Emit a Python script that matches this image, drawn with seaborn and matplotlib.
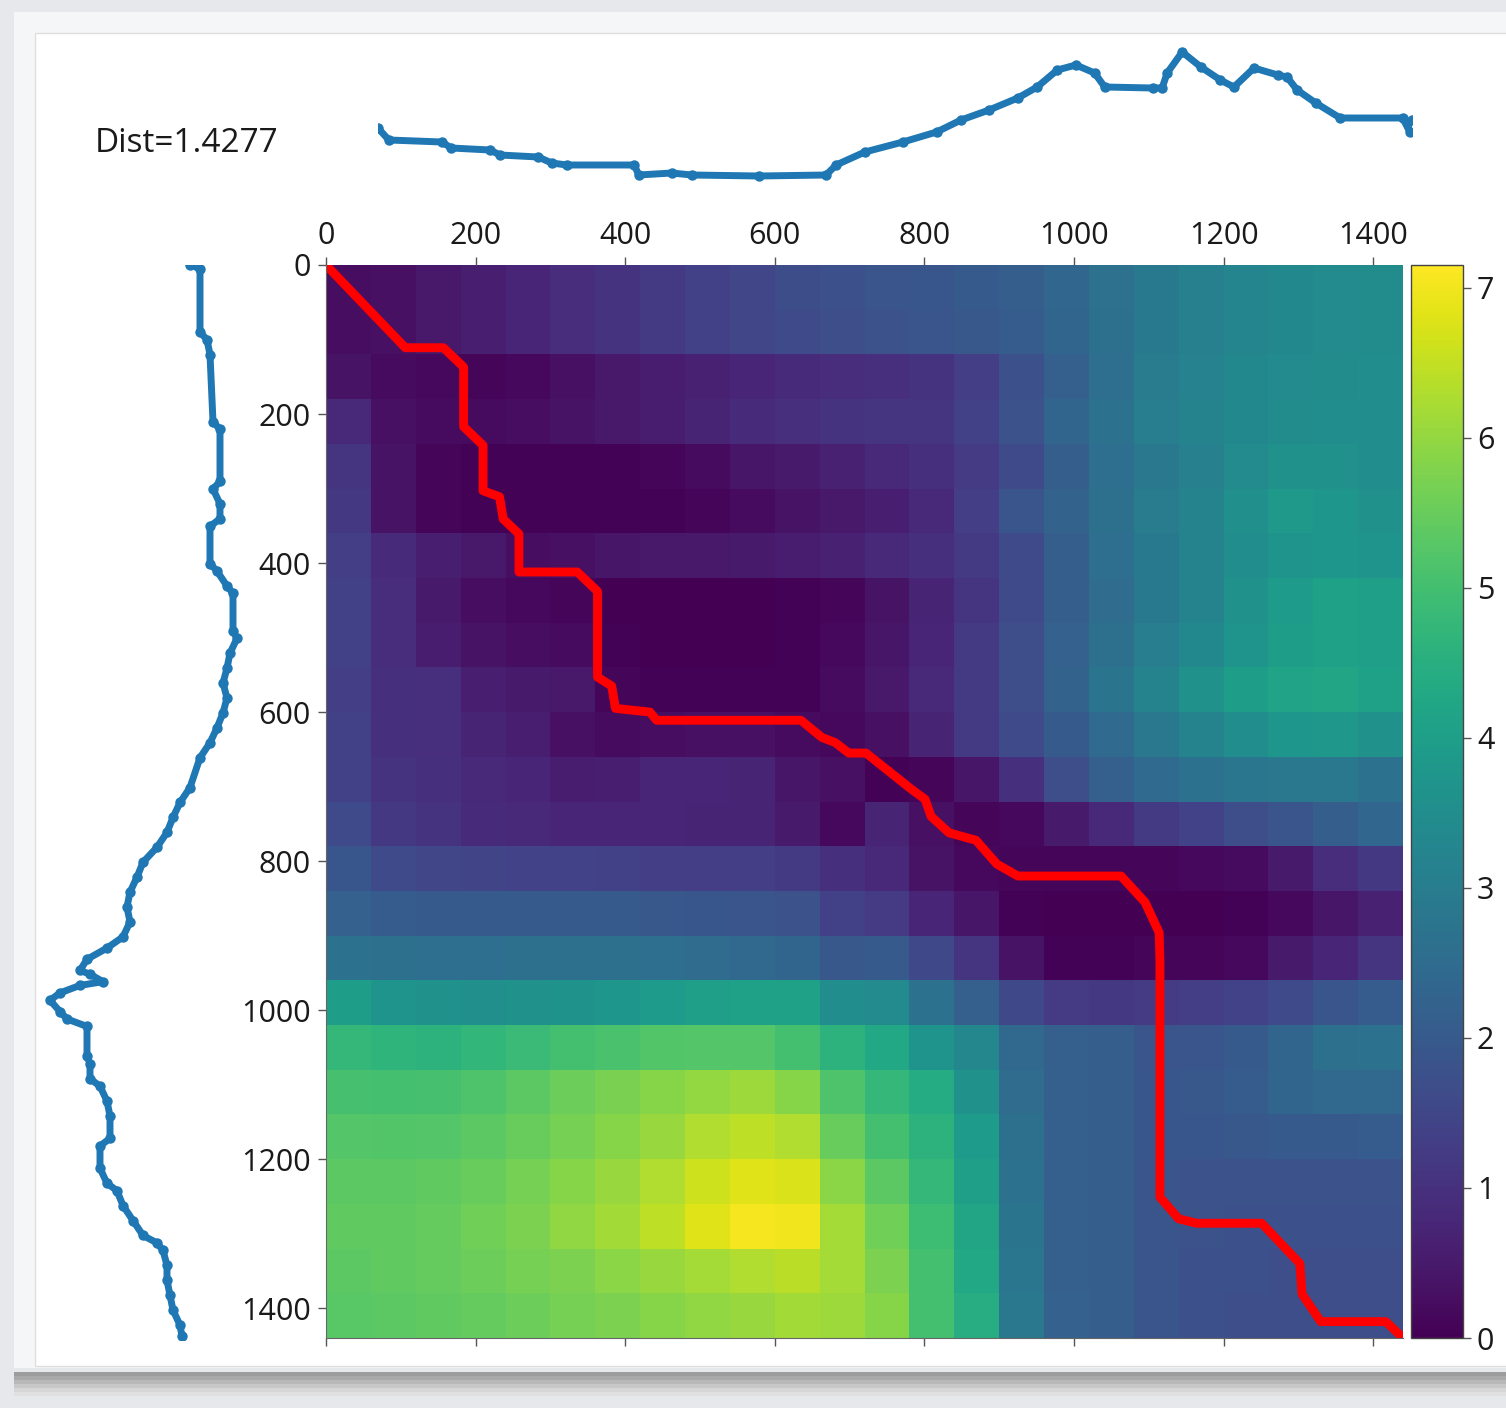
import numpy as np
import pandas as pd
import matplotlib
matplotlib.use("Agg")
import matplotlib.pyplot as plt
from matplotlib.patches import Rectangle
import seaborn as sns

# ---------------- data ----------------
dist_label = "Dist=1.4277"

# top series (column sequence): index, value
top_idx = [0, 15, 89, 102, 156, 170, 223, 242, 263, 357, 363, 409, 437, 531, 624, 638, 678, 731,
           778, 812, 851, 891, 918, 946, 972, 998, 1012, 1079, 1092, 1099, 1120, 1146, 1173, 1192,
           1220, 1253, 1266, 1280, 1306, 1340, 1427, 1437, 1440]
top_val = [52, 40, 38, 32, 30, 25, 23, 17, 15, 15, 5, 7, 5, 4, 5, 15, 28, 38,
           48, 60, 70, 82, 93, 110, 115, 107, 93, 92, 92, 107, 128, 113, 100, 93,
           112, 105, 103, 90, 77, 62, 62, 48, 60]

# left series (row sequence): index, value
left_idx = [0, 5, 90, 100, 120, 210, 220, 290, 300, 320, 340, 350, 400, 410, 430, 440, 490, 500,
            520, 540, 560, 580, 600, 620, 640, 660, 700, 720, 740, 760, 780, 800, 820, 840, 860,
            880, 900, 915, 930, 945, 950, 960, 965, 975, 985, 1000, 1010, 1020, 1060, 1070, 1090,
            1100, 1120, 1140, 1170, 1180, 1210, 1230, 1240, 1260, 1280, 1300, 1310, 1320, 1340,
            1360, 1380, 1400, 1420, 1435]
left_val = [190, 200, 200, 207, 210, 213, 220, 220, 213, 220, 220, 210, 210, 217, 227, 233, 233, 237,
            230, 227, 223, 227, 223, 217, 210, 200, 190, 180, 173, 167, 157, 143, 137, 130, 127,
            130, 123, 107, 87, 80, 90, 103, 80, 60, 50, 60, 67, 87, 87, 90, 90,
            100, 107, 110, 110, 100, 100, 107, 117, 123, 133, 143, 157, 163, 167,
            167, 170, 173, 180, 182]

# warping path (column index, row index)
path_col = [0, 106, 157, 184, 184, 210, 210, 232, 237, 258, 258, 336, 363, 363, 382, 387, 433, 442,
            635, 663, 681, 699, 722, 737, 782, 801, 809, 833, 869, 897, 925, 1063, 1095, 1114,
            1115, 1115, 1140, 1164, 1251, 1302, 1305, 1330, 1417, 1440]
path_row = [0, 111, 111, 137, 217, 242, 303, 311, 341, 361, 412, 412, 438, 553, 565, 595, 600, 611,
            611, 634, 641, 655, 655, 667, 703, 717, 740, 762, 772, 804, 820, 820, 855, 896,
            934, 1251, 1280, 1286, 1286, 1340, 1381, 1418, 1418, 1440]

# cost matrix sampled every 60 samples (rows x columns)
cost_matrix = [
    [0.25, 0.3, 0.45, 0.6, 0.75, 0.9, 1.05, 1.2, 1.35, 1.5, 1.65, 1.75, 1.85, 1.9, 2.0, 2.1, 2.35, 2.65, 2.9, 3.1, 3.25, 3.35, 3.4, 3.45],
    [0.25, 0.3, 0.45, 0.6, 0.75, 0.9, 1.05, 1.2, 1.35, 1.5, 1.6, 1.7, 1.8, 1.85, 1.95, 2.05, 2.3, 2.6, 2.9, 3.1, 3.25, 3.35, 3.4, 3.45],
    [0.35, 0.2, 0.15, 0.1, 0.15, 0.3, 0.45, 0.55, 0.65, 0.75, 0.85, 0.9, 0.95, 1.05, 1.3, 1.75, 2.15, 2.55, 2.95, 3.15, 3.35, 3.4, 3.45, 3.5],
    [0.8, 0.3, 0.2, 0.2, 0.25, 0.35, 0.45, 0.55, 0.7, 0.85, 0.95, 1.05, 1.1, 1.1, 1.35, 1.8, 2.3, 2.7, 3.0, 3.2, 3.35, 3.45, 3.5, 3.5],
    [1.1, 0.35, 0.1, 0.05, 0.05, 0.05, 0.05, 0.1, 0.2, 0.4, 0.5, 0.65, 0.8, 1.0, 1.25, 1.6, 2.1, 2.55, 2.85, 3.1, 3.4, 3.6, 3.6, 3.5],
    [1.15, 0.35, 0.1, 0.05, 0.05, 0.05, 0.05, 0.05, 0.1, 0.2, 0.35, 0.45, 0.6, 0.8, 1.3, 1.85, 2.25, 2.6, 2.95, 3.2, 3.55, 3.85, 3.75, 3.6],
    [1.3, 0.85, 0.6, 0.45, 0.25, 0.3, 0.4, 0.45, 0.45, 0.5, 0.55, 0.65, 0.8, 1.0, 1.2, 1.6, 2.1, 2.55, 2.9, 3.2, 3.5, 3.7, 3.75, 3.7],
    [1.35, 0.9, 0.5, 0.25, 0.15, 0.1, 0.0, 0.0, 0.0, 0.0, 0.05, 0.1, 0.35, 0.7, 1.1, 1.6, 2.1, 2.5, 2.9, 3.2, 3.6, 3.9, 4.05, 4.0],
    [1.35, 0.9, 0.55, 0.35, 0.25, 0.2, 0.05, 0.0, 0.0, 0.0, 0.05, 0.15, 0.4, 0.75, 1.2, 1.7, 2.2, 2.6, 3.0, 3.35, 3.7, 3.95, 4.1, 4.0],
    [1.3, 1.0, 0.95, 0.6, 0.5, 0.45, 0.1, 0.05, 0.05, 0.05, 0.05, 0.2, 0.45, 0.8, 1.2, 1.7, 2.25, 2.75, 3.2, 3.6, 3.95, 4.15, 4.2, 4.1],
    [1.35, 1.0, 0.95, 0.7, 0.6, 0.3, 0.2, 0.25, 0.3, 0.3, 0.2, 0.15, 0.3, 0.7, 1.2, 1.6, 2.0, 2.45, 2.85, 3.2, 3.5, 3.75, 3.8, 3.6],
    [1.35, 1.05, 1.0, 0.8, 0.75, 0.55, 0.6, 0.75, 0.75, 0.7, 0.4, 0.3, 0.05, 0.1, 0.4, 1.0, 1.7, 2.15, 2.45, 2.7, 2.8, 2.85, 2.85, 2.7],
    [1.6, 1.15, 1.05, 0.85, 0.8, 0.75, 0.75, 0.75, 0.7, 0.7, 0.5, 0.15, 0.7, 0.3, 0.1, 0.15, 0.5, 0.8, 1.2, 1.4, 1.7, 1.85, 2.1, 2.35],
    [1.9, 1.6, 1.5, 1.45, 1.4, 1.4, 1.35, 1.3, 1.3, 1.3, 1.2, 1.0, 0.8, 0.35, 0.15, 0.1, 0.1, 0.1, 0.1, 0.15, 0.2, 0.5, 0.9, 1.15],
    [2.2, 2.05, 2.0, 2.0, 2.0, 2.0, 2.0, 1.95, 1.9, 1.85, 1.8, 1.35, 1.25, 0.75, 0.4, 0.05, 0.0, 0.0, 0.0, 0.0, 0.05, 0.15, 0.4, 0.65],
    [2.7, 2.6, 2.55, 2.55, 2.6, 2.6, 2.6, 2.55, 2.5, 2.4, 2.3, 1.95, 2.0, 1.55, 1.1, 0.35, 0.05, 0.05, 0.1, 0.1, 0.15, 0.5, 0.75, 1.1],
    [3.95, 3.7, 3.6, 3.55, 3.6, 3.65, 3.75, 3.9, 4.0, 4.1, 4.05, 3.5, 3.4, 2.7, 2.15, 1.55, 1.25, 1.15, 1.25, 1.3, 1.4, 1.6, 1.85, 2.05],
    [4.75, 4.65, 4.6, 4.7, 4.85, 5.0, 5.1, 5.2, 5.25, 5.25, 5.0, 4.6, 4.3, 3.7, 3.3, 2.4, 2.15, 2.1, 1.85, 1.85, 2.0, 2.3, 2.6, 2.7],
    [5.05, 5.0, 5.05, 5.15, 5.35, 5.55, 5.7, 5.85, 6.0, 6.1, 5.85, 5.15, 4.75, 4.4, 3.6, 2.5, 2.15, 2.1, 1.9, 1.95, 2.05, 2.3, 2.4, 2.4],
    [5.25, 5.2, 5.25, 5.35, 5.5, 5.65, 5.85, 6.05, 6.3, 6.45, 6.3, 5.5, 5.0, 4.6, 3.9, 2.6, 2.15, 2.1, 1.9, 1.9, 1.95, 2.0, 2.0, 2.05],
    [5.35, 5.35, 5.4, 5.5, 5.65, 5.85, 6.05, 6.3, 6.6, 6.8, 6.75, 5.9, 5.35, 4.75, 4.0, 2.7, 2.15, 2.1, 1.85, 1.8, 1.8, 1.8, 1.8, 1.8],
    [5.4, 5.4, 5.45, 5.6, 5.75, 5.95, 6.15, 6.45, 6.8, 7.05, 7.0, 6.2, 5.6, 4.9, 4.2, 2.75, 2.15, 2.1, 1.85, 1.8, 1.75, 1.75, 1.75, 1.75],
    [5.35, 5.4, 5.45, 5.55, 5.65, 5.75, 5.9, 6.05, 6.2, 6.3, 6.4, 6.2, 5.75, 5.0, 4.3, 2.8, 2.15, 2.1, 1.85, 1.75, 1.75, 1.7, 1.7, 1.7],
    [5.3, 5.35, 5.4, 5.45, 5.55, 5.65, 5.75, 5.85, 5.95, 6.05, 6.15, 6.1, 5.85, 5.0, 4.45, 2.85, 2.2, 2.1, 1.85, 1.75, 1.7, 1.7, 1.7, 1.7],
]
axis_ticks = [0, 200, 400, 600, 800, 1000, 1200, 1400]
cbar_ticks = [0, 1, 2, 3, 4, 5, 6, 7]
cbar_max = 7.15
n_samples = 1440

# ---------------- figure ----------------
sns.set_theme(style="white")
plt.rcParams["font.family"] = ["Open Sans", "DejaVu Sans"]

W, H = 1506, 1408
fig = plt.figure(figsize=(W / 100, H / 100), dpi=100)
fig.patch.set_facecolor("#e7e8eb")


def rect(x0, y0, x1, y1):
    return [x0 / W, 1 - y1 / H, (x1 - x0) / W, (y1 - y0) / H]


# panel background and bottom shadow
fig.patches.append(Rectangle((14 / W, 1 - 1368 / H), 1, (1368 - 12) / H,
                             transform=fig.transFigure, facecolor="#f5f6f7",
                             edgecolor="none", zorder=-10))
fig.patches.append(Rectangle((35 / W, 1 - 1366 / H), 1, (1366 - 33) / H,
                             transform=fig.transFigure, facecolor="white",
                             edgecolor="#dedede", linewidth=1, zorder=-9))
shadow = ["#9d9d9d", "#a9a9a9", "#b8b8b8", "#c8c8c8", "#d6d6d6", "#e0e0e0"]
for k, c in enumerate(shadow):
    fig.patches.append(Rectangle((14 / W, 1 - (1372 + 4 * (k + 1)) / H), 1, 4 / H,
                                 transform=fig.transFigure, facecolor=c,
                                 edgecolor="none", zorder=-8))

text_color = "#1a1a1a"
tick_fs = 22

# heatmap
ax_hm = fig.add_axes(rect(326, 265, 1403, 1338))
ax_cb = fig.add_axes(rect(1411, 265, 1463, 1338))
df = pd.DataFrame(cost_matrix)
sns.heatmap(df, ax=ax_hm, cbar_ax=ax_cb, cmap="viridis", vmin=0, vmax=cbar_max,
            xticklabels=False, yticklabels=False, rasterized=True)
ax_hm.set_xlabel("")
ax_hm.set_ylabel("")
ax_hm.tick_params(left=False, bottom=False)

# overlay axes in sample coordinates for the path and the ticks
ax = fig.add_axes(rect(326, 265, 1403, 1338))
ax.patch.set_alpha(0)
sns.lineplot(x=path_col, y=path_row, sort=False, estimator=None, color="red",
             linewidth=6.4, ax=ax, solid_capstyle="round", solid_joinstyle="round")
ax.set_xlim(0, n_samples)
ax.set_ylim(n_samples, 0)
ax.set_xticks(axis_ticks)
ax.set_yticks(axis_ticks)
ax.set_xticklabels([str(t) for t in axis_ticks])
ax.set_yticklabels([str(t) for t in axis_ticks])
ax.tick_params(axis="x", top=True, bottom=True, labeltop=True, labelbottom=False,
               length=6, width=1, color="#555555", labelsize=tick_fs,
               labelcolor=text_color, direction="out", pad=4)
ax.tick_params(axis="y", left=True, length=6, width=1, color="#555555",
               labelsize=tick_fs, labelcolor=text_color, direction="out", pad=5)
ax.set_xlabel("")
ax.set_ylabel("")
for side, sp in ax.spines.items():
    sp.set_visible(side in ("left", "bottom"))
    sp.set_color("#666666")
    sp.set_linewidth(0.8)

# colorbar
ax_cb.set_yticks(cbar_ticks)
ax_cb.set_yticklabels([str(t) for t in cbar_ticks])
ax_cb.tick_params(axis="y", right=True, length=6, width=1, color="#555555",
                  labelsize=tick_fs, labelcolor=text_color, direction="out", pad=4)
cbar = ax_hm.collections[0].colorbar
cbar.outline.set_visible(True)
cbar.outline.set_edgecolor("#444444")
cbar.outline.set_linewidth(1.0)

# top series
ax_top = fig.add_axes(rect(378, 40, 1412, 185))
sns.lineplot(x=top_idx, y=top_val, sort=False, estimator=None, color="#1f77b4",
             linewidth=5, marker="o", markersize=7.5, markeredgewidth=0, ax=ax_top)
ax_top.set_xlim(0, n_samples)
ax_top.set_ylim(-5, 140)
ax_top.axis("off")

# left series
ax_left = fig.add_axes(rect(30, 265, 250, 1340))
sns.lineplot(x=left_val, y=left_idx, sort=False, estimator=None, color="#1f77b4",
             linewidth=5, marker="o", markersize=7.5, markeredgewidth=0, ax=ax_left)
ax_left.set_xlim(30, 250)
ax_left.set_ylim(n_samples, 0)
ax_left.axis("off")

fig.text(95 / W, 1 - 143 / H, dist_label, ha="left", va="center",
         fontsize=24, color=text_color)

fig.savefig("out.png", dpi=100, facecolor=fig.get_facecolor())
